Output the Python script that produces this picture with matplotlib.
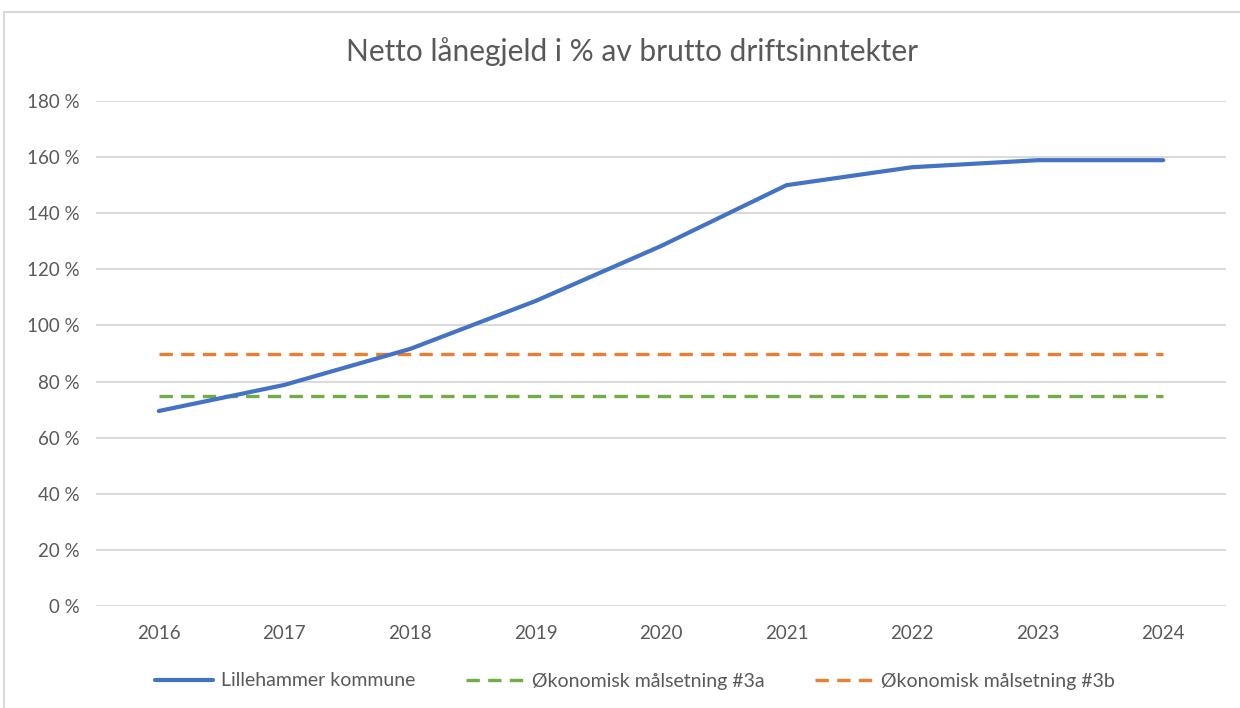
import matplotlib.pyplot as plt
from matplotlib.patches import Rectangle
from matplotlib.ticker import FuncFormatter

years = ["2016", "2017", "2018", "2019", "2020", "2021", "2022", "2023", "2024"]
lillehammer = [69.5, 78.8, 91.6, 108.7, 128.3, 150.0, 156.4, 158.9, 158.9]
maal_3a = [75, 75, 75, 75, 75, 75, 75, 75, 75]
maal_3b = [90, 90, 90, 90, 90, 90, 90, 90, 90]

plt.rcParams['font.family'] = ['Lato', 'DejaVu Sans']
text_color = "#595959"

fig = plt.figure(figsize=(12.4, 7.08), dpi=100)
fig.patches.append(Rectangle((4 / 1240, -0.01), 1.02, 1 - 12 / 708 + 0.01,
                             transform=fig.transFigure, fill=False,
                             edgecolor="#d9d9d9", linewidth=1.5))

ax = fig.add_axes([96 / 1240, 1 - 606 / 708, (1226 - 96) / 1240, (606 - 101) / 708])
x = range(len(years))
ax.plot(x, lillehammer, color="#4472c4", linewidth=3, solid_capstyle="round",
        label="Lillehammer kommune", zorder=3)
ax.plot(x, maal_3a, color="#70ad47", linewidth=2.4, dashes=(4, 2.5),
        label="Økonomisk målsetning #3a", zorder=2)
ax.plot(x, maal_3b, color="#ed7d31", linewidth=2.4, dashes=(4, 2.5),
        label="Økonomisk målsetning #3b", zorder=2)

ax.set_xlim(-0.5, len(years) - 0.5)
ax.set_ylim(0, 180)
ax.set_yticks(range(0, 181, 20))
ax.yaxis.set_major_formatter(FuncFormatter(lambda v, p: f"{int(v)} %"))
ax.set_xticks(list(x))
ax.set_xticklabels(years)
ax.grid(axis="y", color="#d9d9d9", linewidth=1.4)
ax.set_axisbelow(True)
for s in ax.spines.values():
    s.set_visible(False)
ax.tick_params(length=0, labelsize=13.5, labelcolor=text_color)
ax.tick_params(axis="y", pad=12)
ax.tick_params(axis="x", pad=14)

fig.text(0.51, 1 - 52 / 708, "Netto lånegjeld i % av brutto driftsinntekter",
         ha="center", va="center", fontsize=21.5, color=text_color)

fig.legend(loc="center", bbox_to_anchor=(0.512, 1 - 681 / 708), ncol=3,
           frameon=False, fontsize=14, labelcolor=text_color,
           handlelength=3.0, columnspacing=2.6, handletextpad=0.4)

fig.savefig("out.png", dpi=100)
